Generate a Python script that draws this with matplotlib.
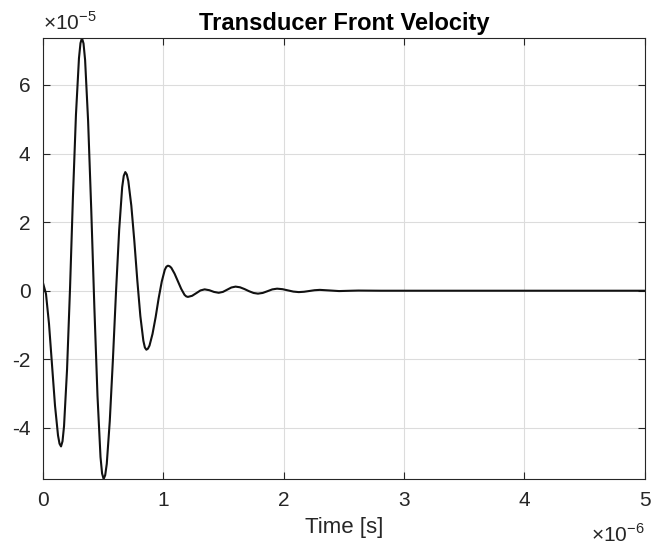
import matplotlib
matplotlib.use('Agg')
import matplotlib.pyplot as plt

plt.rcParams['font.family'] = ['Liberation Sans', 'DejaVu Sans']
plt.rcParams['mathtext.fontset'] = 'custom'
plt.rcParams['mathtext.rm'] = 'Liberation Sans'
plt.rcParams['axes.unicode_minus'] = False

# time in units of 1e-6 s, velocity in units of 1e-5
t_us = [0.000, 0.025, 0.050, 0.075, 0.100, 0.125, 0.1375, 0.150,
        0.1624, 0.175, 0.200, 0.225, 0.249, 0.274, 0.299, 0.3116, 0.324,
        0.3369, 0.350, 0.375, 0.401, 0.427, 0.453, 0.478, 0.4911, 0.504,
        0.5169, 0.530, 0.555, 0.581, 0.607, 0.633, 0.658, 0.6711, 0.684,
        0.6965, 0.709, 0.734, 0.759, 0.784, 0.809, 0.834, 0.8465, 0.859,
        0.8718, 0.885, 0.910, 0.936, 0.961, 0.987, 1.012, 1.0252, 1.038,
        1.0518, 1.066, 1.093, 1.121, 1.149, 1.176, 1.1902, 1.204,
        1.239, 1.274, 1.308, 1.343, 1.382, 1.421, 1.460,
        1.495, 1.530, 1.565, 1.600, 1.637, 1.674, 1.712, 1.749, 1.786,
        1.826, 1.866, 1.905, 1.945, 1.990, 2.035, 2.080, 2.125,
        2.169, 2.213, 2.256, 2.300, 2.380, 2.460, 2.540, 2.620,
        2.800, 3.000, 3.500, 4.000, 4.500, 5.000]
vel = [0.23, -0.09, -0.96, -2.155, -3.35, -4.22, -4.46, -4.54,
       -4.39, -3.95, -2.30, 0.09, 2.74, 5.13, 6.78, 7.22, 7.37,
       7.21, 6.73, 4.95, 2.37, -0.49, -3.07, -4.85, -5.33, -5.49,
       -5.38, -5.05, -3.80, -2.01, -0.02, 1.77, 3.02, 3.35, 3.46,
       3.39, 3.20, 2.48, 1.45, 0.29, -0.74, -1.46, -1.655, -1.72,
       -1.69, -1.60, -1.26, -0.77, -0.22, 0.27, 0.61, 0.70, 0.73,
       0.715, 0.67, 0.50, 0.275, 0.05, -0.12, -0.165, -0.18,
       -0.148, -0.07, 0.008, 0.04, 0.015, -0.035, -0.06,
       -0.034, 0.03, 0.094, 0.12, 0.100, 0.049, -0.014, -0.065, -0.085,
       -0.064, -0.0125, 0.039, 0.06, 0.045, 0.01, -0.025, -0.04,
       -0.030, -0.0075, 0.015, 0.025, 0.008, -0.01, -0.002, 0.005,
       0.0, 0.0, 0.0, 0.0, 0.0, 0.0]

xticks = [0, 1, 2, 3, 4, 5]
yticks = [-4, -2, 0, 2, 4, 6]

dark = '#262626'

fig = plt.figure(figsize=(6.54, 5.54), dpi=100)
ax = fig.add_axes([0.0657, 0.1354, 0.9203, 0.796])

ax.plot(t_us, vel, color='#111111', linewidth=1.5)
ax.margins(x=0, y=0)

ax.set_xticks(xticks)
ax.set_yticks(yticks)
ax.grid(True, color='#dcdcdc', linewidth=0.8)
ax.set_axisbelow(True)
ax.tick_params(direction='in', length=5, width=0.8, colors=dark,
               labelsize=15, top=True, right=True, pad=9)
for s in ax.spines.values():
    s.set_color(dark)
    s.set_linewidth(0.8)

ax.set_title('Transducer Front Velocity', fontsize=17, fontweight='bold', pad=6)
ax.set_xlabel('Time [s]', fontsize=16, color=dark, labelpad=5)

ax.text(0.0, 1.01, r'$\times10^{-5}$', transform=ax.transAxes,
        fontsize=15, color=dark, ha='left', va='bottom')
ax.text(1.0, -0.1, r'$\times10^{-6}$', transform=ax.transAxes,
        fontsize=15, color=dark, ha='right', va='top')

fig.savefig('out.png', dpi=100)
